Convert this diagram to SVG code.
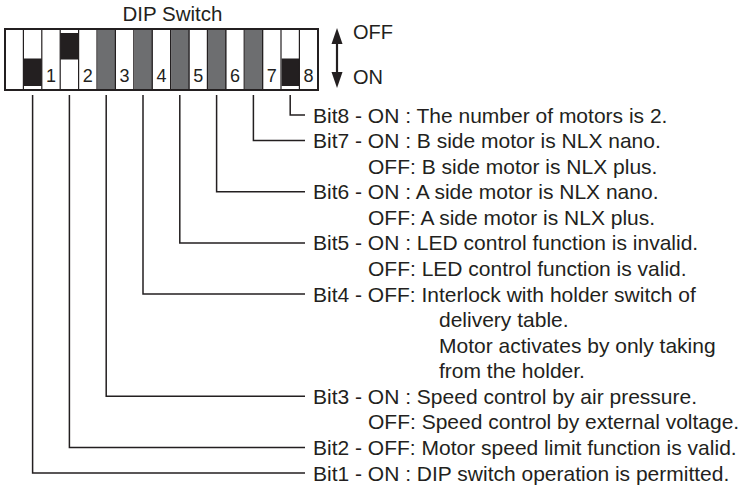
<svg xmlns="http://www.w3.org/2000/svg" width="742" height="488" viewBox="0 0 742 488">
<defs>
<style>
.t{font-family:"Liberation Sans",Arial,sans-serif;font-size:21px;fill:#231f20}
.n{font-family:"Liberation Sans",Arial,sans-serif;font-size:18px;fill:#231f20;text-anchor:middle}
.c{fill:none;stroke:#231f20;stroke-width:1.5}
.div{stroke:#231f20;stroke-width:1.2}
.g{fill:#6d6e70}
.k{fill:#231f20}
</style>
</defs>
<rect width="742" height="488" fill="#fff"/>
<text class="t" x="122.5" y="21" style="font-size:20.5px">DIP Switch</text>
<g id="dip-switch">
<rect x="5" y="29" width="313" height="61" fill="#fff"/>
<rect class="g" x="97.6" y="29" width="18.4" height="61"/>
<rect class="g" x="134.4" y="29" width="18.4" height="61"/>
<rect class="g" x="171.2" y="29" width="18.4" height="61"/>
<rect class="g" x="208" y="29" width="18.4" height="61"/>
<rect class="g" x="244.8" y="29" width="18.4" height="61"/>
<rect class="k" x="23.4" y="58.5" width="18.4" height="27.5"/>
<rect class="k" x="60.2" y="33" width="18.4" height="26.5"/>
<rect class="k" x="281.6" y="58.5" width="18.4" height="27.5"/>
<g class="div">
<line x1="23.4" y1="29" x2="23.4" y2="90"/>
<line x1="41.8" y1="29" x2="41.8" y2="90"/>
<line x1="60.2" y1="29" x2="60.2" y2="90"/>
<line x1="78.6" y1="29" x2="78.6" y2="90"/>
<line x1="97" y1="29" x2="97" y2="90"/>
<line x1="115.4" y1="29" x2="115.4" y2="90"/>
<line x1="133.8" y1="29" x2="133.8" y2="90"/>
<line x1="152.2" y1="29" x2="152.2" y2="90"/>
<line x1="170.6" y1="29" x2="170.6" y2="90"/>
<line x1="189" y1="29" x2="189" y2="90"/>
<line x1="207.4" y1="29" x2="207.4" y2="90"/>
<line x1="225.8" y1="29" x2="225.8" y2="90"/>
<line x1="244.2" y1="29" x2="244.2" y2="90"/>
<line x1="262.6" y1="29" x2="262.6" y2="90"/>
<line x1="281" y1="29" x2="281" y2="90"/>
<line x1="299.4" y1="29" x2="299.4" y2="90"/>
</g>
<rect x="5" y="29" width="313" height="61" fill="none" stroke="#231f20" stroke-width="2"/>
<text class="n" x="51" y="82">1</text>
<text class="n" x="87.8" y="82">2</text>
<text class="n" x="124.6" y="82">3</text>
<text class="n" x="161.4" y="82">4</text>
<text class="n" x="198.2" y="82">5</text>
<text class="n" x="235" y="82">6</text>
<text class="n" x="271.8" y="82">7</text>
<text class="n" x="308.6" y="82">8</text>
</g>
<g id="on-off-indicator">
<line x1="337" y1="40" x2="337" y2="76" stroke="#231f20" stroke-width="2.2"/>
<polygon points="337,28 331.5,44 342.5,44" fill="#231f20"/>
<polygon points="337,88 331.5,72 342.5,72" fill="#231f20"/>
<text class="t" x="353" y="39" style="font-size:20px">OFF</text>
<text class="t" x="353" y="84" style="font-size:20px">ON</text>
</g>
<g id="connectors">
<polyline class="c" points="290.2,95 290.2,115 305,115"/>
<polyline class="c" points="253.4,95 253.4,140.6 305,140.6"/>
<polyline class="c" points="216.6,95 216.6,191.7 305,191.7"/>
<polyline class="c" points="179.8,95 179.8,242.9 305,242.9"/>
<polyline class="c" points="143,95 143,294 305,294"/>
<polyline class="c" points="106.2,95 106.2,396.3 305,396.3"/>
<polyline class="c" points="69.4,95 69.4,447.4 305,447.4"/>
<polyline class="c" points="32.6,95 32.6,473 305,473"/>
</g>
<g id="bit8"><text class="t" x="313" y="122.5">Bit8 - ON : The number of motors is 2.</text></g>
<g id="bit7">
<text class="t" x="313" y="148.1">Bit7 - ON : B side motor is NLX nano.</text>
<text class="t" x="368" y="173.6">OFF: B side motor is NLX plus.</text>
</g>
<g id="bit6">
<text class="t" x="313" y="199.2">Bit6 - ON : A side motor is NLX nano.</text>
<text class="t" x="368" y="224.8">OFF: A side motor is NLX plus.</text>
</g>
<g id="bit5">
<text class="t" x="313" y="250.4">Bit5 - ON : LED control function is invalid.</text>
<text class="t" x="368" y="275.9">OFF: LED control function is valid.</text>
</g>
<g id="bit4">
<text class="t" x="313" y="301.5">Bit4 - OFF: Interlock with holder switch of</text>
<text class="t" x="439" y="327.1">delivery table.</text>
<text class="t" x="439" y="352.6">Motor activates by only taking</text>
<text class="t" x="439" y="378.2">from the holder.</text>
</g>
<g id="bit3">
<text class="t" x="313" y="403.8">Bit3 - ON : Speed control by air pressure.</text>
<text class="t" x="368" y="429.4">OFF: Speed control by external voltage.</text>
</g>
<g id="bit2"><text class="t" x="313" y="454.9">Bit2 - OFF: Motor speed limit function is valid.</text></g>
<g id="bit1"><text class="t" x="313" y="480.5">Bit1 - ON : DIP switch operation is permitted.</text></g>
</svg>
